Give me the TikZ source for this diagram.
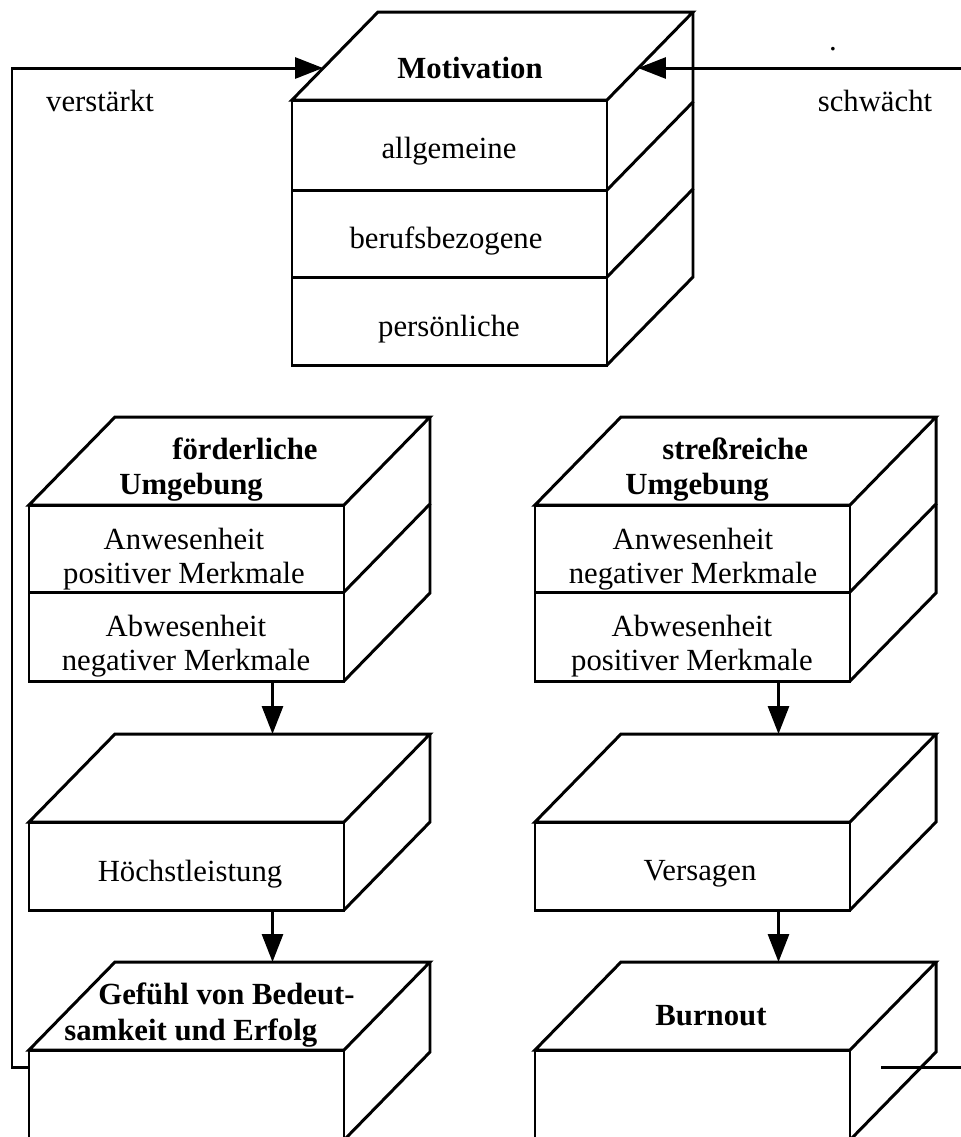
\documentclass[tikz,border=0pt]{standalone}
\usepackage{fontspec}
\setmainfont{Liberation Serif}
\usetikzlibrary{arrows.meta,calc}

\tikzset{
  box/.style={draw, line width=1.7pt, line join=miter},
  txt/.style={font=\fontsize{17.5}{19}\selectfont, align=center, inner sep=0pt},
  btxt/.style={txt, font=\fontsize{17.5}{19}\selectfont\bfseries},
  flow/.style={line width=1.7pt, -{Triangle[length=0.56cm, width=0.42cm]}},
}

% size of a block: front width, depth to the back
\newcommand{\blkw}{315}
\newcommand{\blkdx}{86}
\newcommand{\blkdy}{88}

% #1 name, #2 left x, #3 top y of the front face, #4 bottoms of the layers
\newcommand{\cubeblock}[4]{%
  \draw[box] (#2,#3) -- ++(\blkdx,-\blkdy) -- ++(\blkw,0) -- ++(-\blkdx,\blkdy) -- cycle;
  \coordinate (#1-in) at (#2+0.5*\blkw+\blkdx,#3-\blkdy);
  \foreach \yb [remember=\yb as \ya (initially #3)] in {#4} {
    \draw[box] (#2,\ya) rectangle (#2+\blkw,\yb);
    \draw[box] (#2+\blkw,\yb) -- ++(\blkdx,-\blkdy) -- ++(0,\ya-\yb);
    \coordinate (#1-out) at (#2+0.5*\blkw+\blkdx,\yb);
  }
}

\begin{document}
\begin{tikzpicture}[x=0.02cm, y=-0.02cm]
  \useasboundingbox (0,0) rectangle (961,1137);
  \clip (0,0) rectangle (961,1137);

  % blocks
  \cubeblock{mot}{292}{100}{190,277,365}
  \cubeblock{foerd}{29}{505}{592,681}
  \cubeblock{stress}{535}{505}{592,681}
  \cubeblock{hoechst}{29}{822}{910}
  \cubeblock{versag}{535}{822}{910}
  \cubeblock{gefuehl}{29}{1050}{1140}
  \cubeblock{burn}{535}{1050}{1140}

  % texts
  \node[btxt] (mot) at (470,68) {Motivation};
  \node[txt] (allg) at (449,151) {allgemeine};
  \node[txt] (beruf) at (446,241) {berufsbezogene};
  \node[txt] (pers) at (449,329) {persönliche};

  \node[btxt, anchor=west] (foerd1) at (172,449) {förderliche};
  \node[btxt, anchor=west] (foerd2) at (119,487) {Umgebung};
  \node[txt] (anw1) at (184,559) {Anwesenheit\\positiver Merkmale};
  \node[txt] (abw1) at (186,646) {Abwesenheit\\negativer Merkmale};

  \node[btxt, anchor=west] (stress1) at (662,449) {streßreiche};
  \node[btxt, anchor=west] (stress2) at (625,487) {Umgebung};
  \node[txt] (anw2) at (693,559) {Anwesenheit\\negativer Merkmale};
  \node[txt] (abw2) at (692,646) {Abwesenheit\\positiver Merkmale};

  \node[txt] (hoechst) at (190,874) {Höchstleistung};
  \node[txt] (versag) at (700,874) {Versagen};

  \node[btxt, anchor=west] (gefuehl1) at (98,994) {Gefühl von Bedeut-};
  \node[btxt, anchor=west] (gefuehl2) at (64,1033) {samkeit und Erfolg};
  \node[btxt] (burn) at (711,1016) {Burnout};

  \node[txt] (verst) at (100,101) {verstärkt};
  \node[txt] (schw) at (875,101) {schwächt};
  \node[txt] (dot) at (833,49) {.};

  % arrows
  \draw[flow] (foerd-out) -- (hoechst-in);
  \draw[flow] (stress-out) -- (versag-in);
  \draw[flow] (hoechst-out) -- (gefuehl-in);
  \draw[flow] (versag-out) -- (burn-in);

  % feedback to motivation
  \coordinate (mot-l) at (323,68);
  \coordinate (mot-r) at (638,68);
  \coordinate (gefuehl-fb) at (29,1067);
  \coordinate (burn-fb) at (881,1067);
  \draw[flow] (gefuehl-fb) -- ++(-17,0) |- (mot-l);
  \draw[flow] (burn-fb) -- ++(120,0) |- (mot-r);
\end{tikzpicture}
\end{document}
